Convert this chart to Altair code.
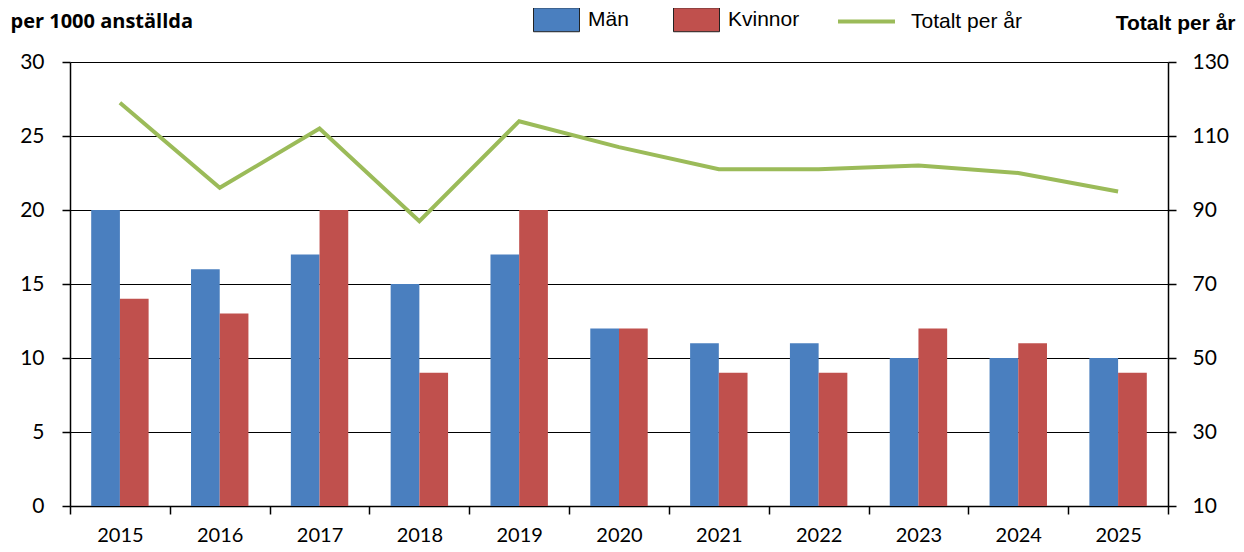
import altair as alt
import pandas as pd

years = ["2015", "2016", "2017", "2018", "2019", "2020", "2021", "2022", "2023", "2024", "2025"]
man = [20, 16, 17, 15, 17, 12, 11, 11, 10, 10, 10]
kvinnor = [14, 13, 20, 9, 20, 12, 9, 9, 12, 11, 9]
totalt = [119, 96, 112, 87, 114, 107, 101, 101, 102, 100, 95]

series = ["Män", "Kvinnor"]
colors = ["#4A7FBF", "#C0504D"]
line_name = "Totalt per år"
line_color = "#9BBB59"

left_ticks = [0, 5, 10, 15, 20, 25, 30]
right_ticks = [10, 30, 50, 70, 90, 110, 130]

bars_df = pd.DataFrame(
    [{"year": y, "kon": "Män", "value": v} for y, v in zip(years, man)]
    + [{"year": y, "kon": "Kvinnor", "value": v} for y, v in zip(years, kvinnor)]
)
line_df = pd.DataFrame({"year": years, "total": totalt, "serie": [line_name] * len(years)})

AX_FONT = "Lato"
LEG_FONT = "Liberation Sans"

x_enc = alt.X(
    "year:N",
    sort=years,
    scale=alt.Scale(paddingInner=0, paddingOuter=0),
    axis=alt.Axis(
        title=None, labelAngle=0, tickBand="extent", tickSize=8, tickColor="black",
        tickWidth=1.5, domainColor="black", domainWidth=1.5, labelPadding=11,
        labelFont=AX_FONT, labelFontSize=20, labelColor="black", grid=False,
    ),
)

bars = alt.Chart(bars_df).mark_bar().encode(
    x=x_enc,
    xOffset=alt.XOffset(
        "kon:N", sort=series,
        scale=alt.Scale(paddingInner=0, paddingOuter=0.7385),
    ),
    y=alt.Y(
        "value:Q",
        scale=alt.Scale(domain=[0, 30], nice=False),
        axis=alt.Axis(
            values=left_ticks, grid=True, gridColor="black", gridWidth=1.2,
            tickSize=8, tickColor="black", tickWidth=1.5, domainColor="black",
            domainWidth=1.5, labelPadding=18, labelFont=AX_FONT, labelFontSize=21,
            labelColor="black",
            title="per 1000 anställda", titleAngle=0, titleAlign="left",
            titleBaseline="alphabetic", titleX=-60, titleY=-35, titleFont="Open Sans",
            titleFontSize=20, titleFontWeight="bold", titleColor="black",
        ),
    ),
    color=alt.Color(
        "kon:N",
        sort=series,
        scale=alt.Scale(domain=series, range=colors),
        legend=alt.Legend(
            title=None, orient="none", direction="horizontal",
            legendX=463, legendY=-66,
            symbolType="M-1,-0.52H1V0.52H-1Z", symbolSize=2116,
            symbolStrokeColor="#222222", symbolStrokeWidth=1,
            symbolOpacity=1, labelOffset=8, columnPadding=42,
            labelFont=LEG_FONT, labelFontSize=21, labelColor="black",
        ),
    ),
)

line = alt.Chart(line_df).mark_line(strokeWidth=4).encode(
    x=alt.X("year:N", sort=years),
    y=alt.Y(
        "total:Q",
        scale=alt.Scale(domain=[10, 130], nice=False),
        axis=alt.Axis(
            orient="right", values=right_ticks, grid=False, tickSize=8,
            tickColor="black", tickWidth=1.5, domainColor="black", domainWidth=1.5,
            labelPadding=16, labelFont=AX_FONT, labelFontSize=21, labelColor="black",
            title="Totalt per år", titleAngle=0, titleAlign="right",
            titleBaseline="alphabetic", titleX=67, titleY=-33, titleFont=LEG_FONT,
            titleFontSize=21, titleFontWeight="bold", titleColor="black",
        ),
    ),
    stroke=alt.Stroke(
        "serie:N",
        scale=alt.Scale(domain=[line_name], range=[line_color]),
        legend=alt.Legend(
            title=None, orient="none", direction="horizontal",
            legendX=766, legendY=-71,
            symbolType="stroke", symbolSize=3249, symbolStrokeWidth=4,
            labelOffset=14, labelFont=LEG_FONT, labelFontSize=21, labelColor="black",
        ),
    ),
)

chart = (
    alt.layer(bars, line)
    .resolve_scale(y="independent", color="independent", stroke="independent")
    .properties(
        width=1098, height=444,
        autosize=alt.AutoSizeParams(type="none"),
        padding={"left": 62, "top": 54, "right": 68, "bottom": 38},
    )
    .configure_view(stroke=None)
)

chart.save("out.html", embed_options={"renderer": "svg", "actions": False})
